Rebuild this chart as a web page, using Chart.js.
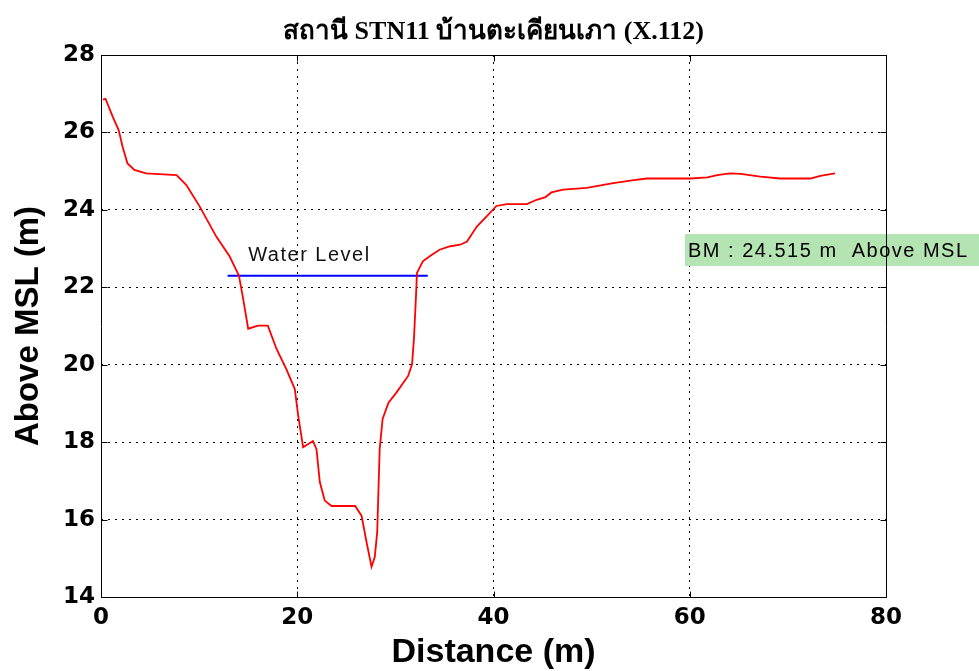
<!DOCTYPE html>
<html>
<head>
<meta charset="utf-8">
<script src="https://cdn.jsdelivr.net/npm/chart.js@4.4.0/dist/chart.umd.min.js"></script>
<style>
  html, body { margin: 0; padding: 0; background: #ffffff; }
  #wrap { width: 979px; height: 671px; }
</style>
</head>
<body>
<div id="wrap"><canvas id="c" width="979" height="671"></canvas></div>
<script>
// Cross-section survey: distance along the section (m) and ground level above MSL (m)
const distance = [0.2, 0.46, 1.2, 1.8, 2.2, 2.7, 3.4, 4.6, 7.7, 8.7,
  10.05, 11.75, 13.1, 14.06, 14.5, 15.0, 16.0, 17.0, 17.9, 18.9,
  19.75, 20.1, 20.6, 21.6, 21.96, 22.3, 22.8, 23.5, 25.9, 26.55,
  27.06, 27.57, 27.9, 28.15, 28.4, 28.7, 29.3, 30.1, 31.3, 31.7,
  31.9, 32.1, 32.2, 32.8, 33.5, 34.5, 35.6, 36.6, 37.3, 38.3,
  39.3, 40.3, 41.35, 43.4, 44.4, 45.3, 45.9, 47.1, 49.5, 52.2,
  54.3, 55.6, 60.05, 61.8, 62.8, 64.1, 65.2, 67.2, 69.2, 72.3,
  73.3, 74.8];
const elevation = [26.85, 26.87, 26.4, 26.06, 25.63, 25.2, 25.03, 24.94, 24.9, 24.64,
  24.09, 23.31, 22.8, 22.3, 21.68, 20.93, 21.01, 21.01, 20.4, 19.88,
  19.37, 18.68, 17.87, 18.03, 17.82, 16.97, 16.49, 16.35, 16.35, 16.1,
  15.42, 14.78, 15.03, 15.68, 17.82, 18.6, 19.02, 19.28, 19.71, 20.01,
  20.7, 21.77, 22.37, 22.67, 22.8, 22.97, 23.06, 23.1, 23.18, 23.57,
  23.83, 24.1, 24.15, 24.15, 24.26, 24.33, 24.45, 24.52, 24.57, 24.69,
  24.77, 24.81, 24.81, 24.84, 24.9, 24.94, 24.93, 24.86, 24.81, 24.81,
  24.88, 24.94];

// Water surface across the channel
const waterX = [12.9, 33.3];
const waterLevel = [22.3, 22.3];

// Axis ranges and tick values
const xTicks = [0, 20, 40, 60, 80];
const yTicks = [14, 16, 18, 20, 22, 24, 26, 28];

// Texts
const titleText = 'สถานี STN11 บ้านตะเคียนเภา (X.112)';
const xTitle = 'Distance (m)';
const yTitle = 'Above MSL (m)';
const waterLabel = 'Water Level';
const waterLabelAt = [15.0, 22.83];
const bmLabel = 'BM : 24.515 m  Above MSL';
const bmLabelAt = [59.5, 22.96];

const toPoints = (xs, ys) => xs.map((v, i) => ({ x: v, y: ys[i] }));

const labelFont = '20px "Liberation Sans", Arial, sans-serif';

// Title, annotations, axes frame and inward tick marks
const framePlugin = {
  id: 'frame',
  beforeDatasetsDraw(chart) {
    const { ctx, width, scales: { x, y } } = chart;
    ctx.save();
    ctx.font = labelFont;
    ctx.letterSpacing = '1.5px';
    const px = Math.round(x.getPixelForValue(bmLabelAt[0]));
    const py = y.getPixelForValue(bmLabelAt[1]);
    ctx.fillStyle = 'rgb(180,228,178)';
    ctx.fillRect(px, Math.round(py - 16), width - px, 32);
    ctx.fillStyle = '#000';
    ctx.textBaseline = 'middle';
    ctx.fillText(bmLabel, px + 3, py + 1);
    ctx.restore();
  },
  afterDatasetsDraw(chart) {
    const { ctx, chartArea: a, scales: { x, y } } = chart;
    ctx.save();
    // chart title, centred over the plot area
    ctx.font = 'bold 26px "Liberation Serif", "Times New Roman", serif';
    ctx.fillStyle = '#000';
    ctx.textAlign = 'center';
    ctx.textBaseline = 'middle';
    ctx.fillText(titleText, (a.left + a.right) / 2, 32);
    ctx.textAlign = 'left';
    // water level label
    ctx.font = labelFont;
    ctx.letterSpacing = '1.5px';
    ctx.fillStyle = '#111';
    ctx.fillText(waterLabel, x.getPixelForValue(waterLabelAt[0]), y.getPixelForValue(waterLabelAt[1]));
    ctx.letterSpacing = '0px';
    // frame
    const L = Math.round(a.left) + 0.5, R = Math.round(a.right) + 0.5;
    const T = Math.round(a.top) + 0.5, B = Math.round(a.bottom) + 0.5;
    ctx.strokeStyle = '#000';
    ctx.lineWidth = 1;
    ctx.setLineDash([]);
    ctx.beginPath();
    ctx.rect(L, T, R - L, B - T);
    // inward ticks
    const tl = 6;
    xTicks.forEach(v => {
      const p = Math.round(x.getPixelForValue(v)) + 0.5;
      ctx.moveTo(p, B); ctx.lineTo(p, B - tl);
      ctx.moveTo(p, T); ctx.lineTo(p, T + tl);
    });
    yTicks.forEach(v => {
      const p = Math.round(y.getPixelForValue(v)) + 0.5;
      ctx.moveTo(L, p); ctx.lineTo(L + tl, p);
      ctx.moveTo(R, p); ctx.lineTo(R - tl, p);
    });
    ctx.stroke();
    ctx.restore();
  }
};

const tickFont = { family: '"DejaVu Sans", "Liberation Sans", Arial, sans-serif', size: 23, weight: 'bold' };
const xTitleFont = { family: '"Liberation Sans", Arial, sans-serif', size: 34, weight: 'bold', lineHeight: 1.1 };
const yTitleFont = { family: '"Liberation Sans", Arial, sans-serif', size: 33, weight: 'bold', lineHeight: 1.2 };

new Chart(document.getElementById('c'), {
  type: 'scatter',
  data: {
    datasets: [
      {
        label: 'Ground',
        data: toPoints(distance, elevation),
        showLine: true,
        borderColor: '#ff0000',
        borderWidth: 1.8,
        pointRadius: 0,
        tension: 0,
        fill: false
      },
      {
        label: 'Water Level',
        data: toPoints(waterX, waterLevel),
        showLine: true,
        borderColor: '#0000ff',
        borderWidth: 2,
        pointRadius: 0,
        fill: false
      }
    ]
  },
  options: {
    responsive: false,
    animation: false,
    devicePixelRatio: 1,
    layout: { padding: { left: 0, right: 93, top: 55, bottom: 0 } },
    plugins: {
      legend: { display: false },
      tooltip: { enabled: false },
      title: { display: false }
    },
    scales: {
      x: {
        type: 'linear',
        min: 0,
        max: 80,
        afterBuildTicks(scale) { scale.ticks = xTicks.map(v => ({ value: v })); },
        afterFit(scale) { scale.height = 74; },
        grid: { color: '#000', lineWidth: 1, drawTicks: false },
        border: { display: false, dash: [2, 5] },
        ticks: { color: '#000', font: tickFont, padding: 7, maxRotation: 0 },
        title: { display: true, text: xTitle, color: '#000', font: xTitleFont, padding: { top: 0, bottom: 0 } }
      },
      y: {
        type: 'linear',
        min: 14,
        max: 28,
        afterBuildTicks(scale) { scale.ticks = yTicks.map(v => ({ value: v })); },
        afterFit(scale) { scale.width = 101; },
        grid: { color: '#000', lineWidth: 1, drawTicks: false },
        border: { display: false, dash: [2, 5] },
        ticks: { color: '#000', font: tickFont, padding: 6 },
        title: { display: true, text: yTitle, color: '#000', font: yTitleFont, padding: { top: 9, bottom: 0 } }
      }
    }
  },
  plugins: [framePlugin]
});
</script>
</body>
</html>
